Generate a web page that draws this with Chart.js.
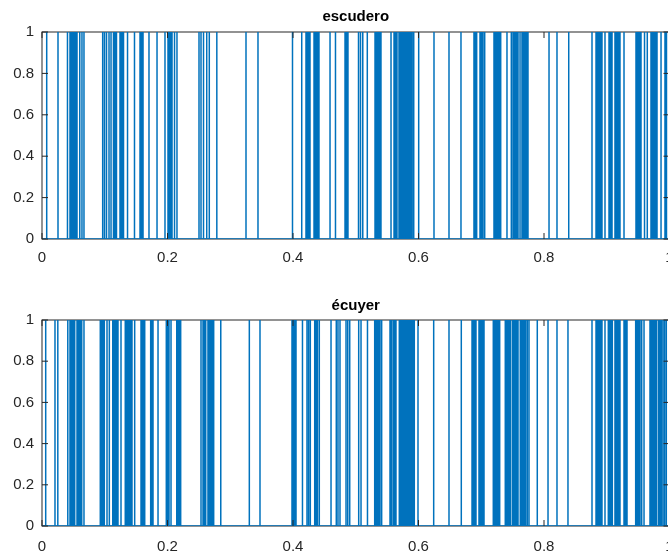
<!DOCTYPE html>
<html>
<head>
<meta charset="utf-8">
<script src="https://cdn.jsdelivr.net/npm/chart.js@4"></script>
<style>
  html, body { margin: 0; padding: 0; background: #fff; overflow: hidden; }
  #wrap { position: relative; width: 668px; height: 556px; overflow: hidden; }
  canvas { position: absolute; left: 0; }
  #top { top: 0; }
  #bottom { top: 290px; }
</style>
</head>
<body>
<div id="wrap">
  <canvas id="top" width="680" height="290"></canvas>
  <canvas id="bottom" width="680" height="266"></canvas>
</div>
<script>
// relative positions (0..1) where each word occurs
const escuderoPos = [
  0.0075, 0.0255, 0.0406, 0.0446, 0.0462, 0.0478, 0.0494, 0.0510, 0.0526, 0.0542, 0.0558,
  0.0602, 0.0637, 0.0669, 0.0967, 0.0996, 0.1028, 0.1068, 0.1100, 0.1139, 0.1163, 0.1187,
  0.1243, 0.1259, 0.1275, 0.1299, 0.1363, 0.1474, 0.1562, 0.1586, 0.1610, 0.1705, 0.1833,
  0.1960, 0.2008, 0.2032, 0.2056, 0.2072, 0.2112, 0.2151, 0.2502, 0.2534, 0.2574, 0.2625,
  0.2666, 0.2786, 0.3251, 0.3442, 0.3992, 0.4139, 0.4207, 0.4228, 0.4249, 0.4271, 0.4335,
  0.4354, 0.4373, 0.4392, 0.4414, 0.4590, 0.4677, 0.4829, 0.4853, 0.4876, 0.5044, 0.5076,
  0.5112, 0.5184, 0.5307, 0.5331, 0.5355, 0.5379, 0.5402, 0.5562, 0.5610, 0.5633, 0.5657,
  0.5689, 0.5709, 0.5728, 0.5747, 0.5766, 0.5785, 0.5804, 0.5823, 0.5842, 0.5861, 0.5880,
  0.5899, 0.5918, 0.5928, 0.6003, 0.6247, 0.6486, 0.6677, 0.6884, 0.6905, 0.6927, 0.6980,
  0.7004, 0.7028, 0.7055, 0.7203, 0.7224, 0.7245, 0.7267, 0.7288, 0.7310, 0.7410, 0.7479,
  0.7506, 0.7527, 0.7548, 0.7570, 0.7586, 0.7618, 0.7649, 0.7669, 0.7688, 0.7707, 0.7726,
  0.7745, 0.8080, 0.8207, 0.8394, 0.8765, 0.8829, 0.8853, 0.8876, 0.8900, 0.8924, 0.8972,
  0.9036, 0.9060, 0.9084, 0.9131, 0.9151, 0.9170, 0.9189, 0.9211, 0.9275, 0.9466, 0.9486,
  0.9505, 0.9524, 0.9546, 0.9602, 0.9646, 0.9705, 0.9729, 0.9753, 0.9777, 0.9801, 0.9865,
  0.9928, 0.9952
];

const ecuyerPos = [
  0.0059, 0.0207, 0.0252, 0.0411, 0.0446, 0.0465, 0.0484, 0.0504, 0.0521, 0.0558, 0.0574,
  0.0590, 0.0610, 0.0633, 0.0669, 0.0929, 0.0950, 0.0972, 0.0993, 0.1036, 0.1073, 0.1127,
  0.1147, 0.1168, 0.1189, 0.1211, 0.1259, 0.1327, 0.1348, 0.1371, 0.1391, 0.1414, 0.1434,
  0.1477, 0.1578, 0.1597, 0.1616, 0.1637, 0.1732, 0.1753, 0.1769, 0.1849, 0.1981, 0.2002,
  0.2024, 0.2056, 0.2147, 0.2167, 0.2188, 0.2210, 0.2534, 0.2566, 0.2587, 0.2609, 0.2645,
  0.2664, 0.2684, 0.2703, 0.2722, 0.2736, 0.2849, 0.3304, 0.3474, 0.3984, 0.4005, 0.4026,
  0.4048, 0.4151, 0.4223, 0.4249, 0.4276, 0.4346, 0.4367, 0.4389, 0.4419, 0.4606, 0.4690,
  0.4717, 0.4749, 0.4845, 0.4873, 0.4904, 0.5047, 0.5084, 0.5187, 0.5302, 0.5323, 0.5343,
  0.5364, 0.5386, 0.5413, 0.5546, 0.5570, 0.5598, 0.5619, 0.5641, 0.5694, 0.5713, 0.5732,
  0.5751, 0.5771, 0.5790, 0.5809, 0.5828, 0.5847, 0.5866, 0.5885, 0.5904, 0.5923, 0.5933,
  0.5992, 0.6242, 0.6486, 0.6682, 0.6853, 0.6874, 0.6894, 0.6916, 0.6964, 0.6985, 0.7005,
  0.7028, 0.7044, 0.7192, 0.7213, 0.7235, 0.7256, 0.7276, 0.7294, 0.7383, 0.7404, 0.7426,
  0.7447, 0.7469, 0.7501, 0.7522, 0.7543, 0.7564, 0.7586, 0.7622, 0.7643, 0.7665, 0.7686,
  0.7707, 0.7734, 0.7761, 0.7893, 0.8064, 0.8207, 0.8382, 0.8765, 0.8829, 0.8851, 0.8872,
  0.8892, 0.8908, 0.8924, 0.8972, 0.9025, 0.9045, 0.9068, 0.9089, 0.9131, 0.9151, 0.9170,
  0.9189, 0.9211, 0.9275, 0.9299, 0.9323, 0.9461, 0.9482, 0.9498, 0.9509, 0.9530, 0.9557,
  0.9594, 0.9689, 0.9710, 0.9731, 0.9753, 0.9773, 0.9796, 0.9828, 0.9849, 0.9870, 0.9896,
  0.9922, 0.9949
];

const xTicks = [0, 0.2, 0.4, 0.6, 0.8, 1];
const yTicks = [0, 0.2, 0.4, 0.6, 0.8, 1];

const AXIS_COLOR = '#262626';
const LINE_COLOR = '#0072bd';
const FONT = "'Liberation Sans', Arial, Helvetica, sans-serif";

// 0/1 signal: baseline at 0 with a spike up to 1 at each occurrence
function toSignal(pos) {
  const pts = [{ x: 0, y: 0 }];
  pos.forEach(p => {
    pts.push({ x: p, y: 0 }, { x: p, y: 1 }, { x: p, y: 0 });
  });
  pts.push({ x: 1, y: 0 });
  return pts;
}

const fmt = v => String(Math.round(v * 10) / 10);

// MATLAB style box with ticks pointing inwards
const boxPlugin = {
  id: 'box',
  beforeDatasetsDraw(chart) {
    const { ctx, chartArea: a } = chart;
    ctx.save();
    ctx.strokeStyle = AXIS_COLOR;
    ctx.lineWidth = 1;
    ctx.strokeRect(a.left, a.top, a.right - a.left, a.bottom - a.top);
    ctx.restore();
  },
  afterDraw(chart) {
    const { ctx, chartArea: a, scales } = chart;
    const len = 6;
    ctx.save();
    ctx.strokeStyle = AXIS_COLOR;
    ctx.lineWidth = 1;
    ctx.beginPath();
    xTicks.forEach(v => {
      const x = scales.x.getPixelForValue(v);
      ctx.moveTo(x, a.bottom); ctx.lineTo(x, a.bottom - len);
      ctx.moveTo(x, a.top);    ctx.lineTo(x, a.top + len);
    });
    yTicks.forEach(v => {
      const y = scales.y.getPixelForValue(v);
      ctx.moveTo(a.left, y);  ctx.lineTo(a.left + len, y);
      ctx.moveTo(a.right, y); ctx.lineTo(a.right - len, y);
    });
    ctx.stroke();
    ctx.restore();
  }
};

function makeChart(id, title, pos, titlePad, xHeight, xPad) {
  return new Chart(document.getElementById(id), {
    type: 'line',
    data: {
      datasets: [{
        data: toSignal(pos),
        borderColor: LINE_COLOR,
        borderWidth: 1.5,
        pointRadius: 0,
        tension: 0,
        fill: false,
      }]
    },
    options: {
      responsive: false,
      animation: false,
      events: [],
      layout: { padding: { left: 0, right: 10.5, top: 0, bottom: 0 } },
      plugins: {
        legend: { display: false },
        tooltip: { enabled: false },
        title: {
          display: true,
          fullSize: false,
          text: title,
          color: '#000',
          font: { family: FONT, size: 15, weight: 'bold' },
          padding: titlePad,
        },
      },
      scales: {
        x: {
          type: 'linear',
          min: 0,
          max: 1,
          afterBuildTicks: s => { s.ticks = xTicks.map(v => ({ value: v })); },
          afterFit: s => {
            s.height = xHeight;
            s.paddingLeft = 0;
            s.paddingRight = 0;
          },
          grid: { display: false, drawTicks: false },
          border: { display: false },
          ticks: {
            color: AXIS_COLOR,
            font: { family: FONT, size: 15 },
            padding: xPad,
            maxRotation: 0,
            autoSkip: false,
            callback: fmt,
          },
        },
        y: {
          min: 0,
          max: 1,
          afterBuildTicks: s => { s.ticks = yTicks.map(v => ({ value: v })); },
          afterFit: s => {
            s.width = 42;
            s.paddingTop = 0;
            s.paddingBottom = 0;
          },
          grid: { display: false, drawTicks: false },
          border: { display: false },
          ticks: {
            color: AXIS_COLOR,
            font: { family: FONT, size: 15 },
            padding: 8,
            callback: fmt,
          },
        },
      },
    },
    plugins: [boxPlugin],
  });
}

makeChart('top', 'escudero', escuderoPos, { top: 8, bottom: 6 }, 51, 10);
makeChart('bottom', 'écuyer', ecuyerPos, { top: 7, bottom: 5 }, 30, 12);
</script>
</body>
</html>
